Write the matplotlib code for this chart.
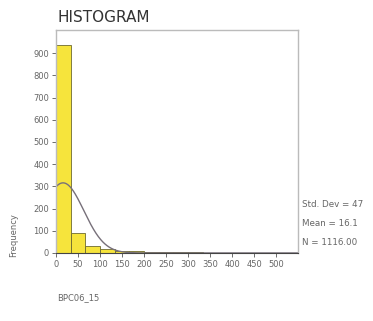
import numpy as np
import matplotlib
matplotlib.use("Agg")
import matplotlib.pyplot as plt

# Histogram of BPC06_15 with fitted normal curve
bin_width = 100 / 3
counts = [936, 92, 30, 16, 10, 8, 6, 5, 4, 3, 2, 2, 1, 1, 0, 0]
y_ticks = [0, 100, 200, 300, 400, 500, 600, 700, 800, 900]
x_ticks = [0, 50, 100, 150, 200, 250, 300, 350, 400, 450, 500]
std_dev = 47.0
mean = 16.1
n_total = 1116

edges = np.arange(len(counts) + 1) * bin_width

fig = plt.figure(figsize=(3.73, 3.21), dpi=100)
ax = fig.add_axes([0.150, 0.212, 0.649, 0.695])

ax.bar(edges[:-1], counts, width=bin_width, align="edge",
       color="#F6E43C", edgecolor="#6E6A30", linewidth=0.6)

xs = np.linspace(0, 550, 600)
curve = n_total * bin_width / (std_dev * np.sqrt(2 * np.pi)) * np.exp(-0.5 * ((xs - mean) / std_dev) ** 2)
ax.plot(xs, curve, color="#77707A", linewidth=1.0)

ax.set_xlim(0, 550)
ax.set_ylim(0, 1005)
ax.set_xticks(x_ticks)
ax.set_yticks(y_ticks)
ax.tick_params(labelsize=6, colors="#555555", length=3, width=0.6, pad=2)
for lab in ax.get_xticklabels() + ax.get_yticklabels():
    lab.set_color("#666666")

for side in ("top", "right", "left"):
    ax.spines[side].set_color("#BBBBBB")
    ax.spines[side].set_linewidth(1.0)
ax.spines["bottom"].set_color("#444444")
ax.spines["bottom"].set_linewidth(0.8)

ax.set_ylabel("Frequency", fontsize=6, color="#666666")
ax.yaxis.set_label_coords(-0.155, 0.08)

fig.text(0.155, 0.944, "HISTOGRAM", fontsize=11, color="#333333",
         ha="left", va="center")

stats = [f"Std. Dev = {std_dev:.0f}", f"Mean = {mean:.1f}", f"N = {n_total:.2f}"]
for i, s in enumerate(stats):
    fig.text(0.81, 0.362 - i * 0.058, s, fontsize=6.3, color="#666666",
             ha="left", va="center")

fig.text(0.153, 0.072, "BPC06_15", fontsize=6, color="#666666",
         ha="left", va="center")

fig.savefig("out.png", dpi=100)
